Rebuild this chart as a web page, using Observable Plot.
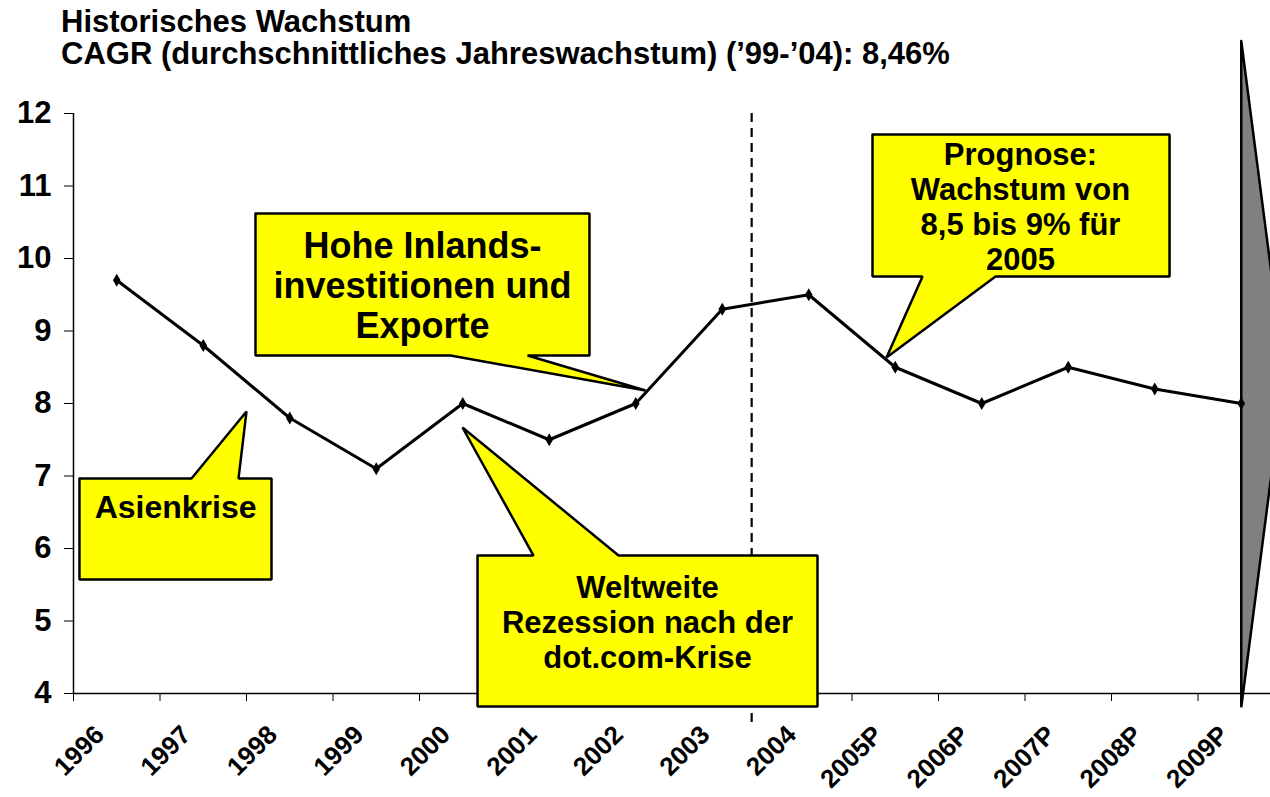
<!DOCTYPE html>
<html><head><meta charset="utf-8">
<script src="https://cdn.jsdelivr.net/npm/d3@7"></script>
<script src="https://cdn.jsdelivr.net/npm/@observablehq/plot@0.6"></script>
<style>
html,body{margin:0;padding:0;background:#fff;}
#wrap{position:relative;width:1270px;height:797px;overflow:hidden;}
#title{position:absolute;left:61px;top:6px;font:bold 31px/32px "Liberation Sans",Arial,sans-serif;color:#000;z-index:2;white-space:nowrap;}
#chart svg{display:block;}
</style></head><body>
<div id="wrap">
<div id="title"><div>Historisches Wachstum</div><div>CAGR (durchschnittliches Jahreswachstum) (’99-’04): 8,46%</div></div>
<div id="chart"></div>
</div>
<script>
// ---- data ----
const years = ["1996","1997","1998","1999","2000","2001","2002","2003","2004","2005P","2006P","2007P","2008P","2009P"];
const growth = [9.7, 8.8, 7.8, 7.1, 8.0, 7.5, 8.0, 9.3, 9.5, 8.5, 8.0, 8.5, 8.2, 8.0];
const yTicks = [4, 5, 6, 7, 8, 9, 10, 11, 12];
const forecastSplit = 7.34;   // dashed divider between 2003 and 2004 (category index units)

// callouts: polygon vertices and label anchor in data coordinates (x = category index, y = value)
const callouts = [
  {id: "asien", text: "Asienkrise", size: 32, lh: 1.1, tx: 0.68, ty: 6.57,
   shape: [[-0.431,6.966],[0.864,6.966],[1.5,7.89],[1.408,6.966],[1.789,6.966],[1.789,5.572],[-0.431,5.572]]},
  {id: "inland", text: "Hohe Inlands-\ninvestitionen und\nExporte", size: 36, lh: 1.11, tx: 3.535, ty: 9.634,
   shape: [[1.604,10.621],[5.465,10.621],[5.465,8.662],[4.749,8.662],[6.113,8.179],[3.858,8.662],[1.604,8.662]]},
  {id: "welt", text: "Weltweite\nRezession nach der\ndot.com-Krise", size: 31, lh: 1.13, tx: 6.136, ty: 4.993,
   shape: [[4.171,5.903],[4.818,5.903],[3.997,7.669],[5.801,5.903],[8.101,5.903],[8.101,3.821],[4.171,3.821]]},
  {id: "prog", text: "Prognose:\nWachstum von\n8,5 bis 9% für\n2005", size: 31, lh: 1.13, tx: 10.448, ty: 10.724,
   shape: [[8.737,11.71],[12.171,11.71],[12.171,9.752],[10.159,9.752],[8.899,8.634],[9.315,9.752],[8.737,9.752]]}
];
const arrowShape = [[13, 13.0], [13.5, 8.41], [13, 3.81], [13, 13.0]];

// ---- build ----
const rows = years.map((year, i) => ({i, year, value: growth[i]}));
const bandEdges = d3.range(years.length + 1).map(k => k - 0.5);
const shapes = callouts.flatMap(c => [...c.shape, c.shape[0]].map(([x, y]) => ({id: c.id, x, y})));
const arrow = arrowShape.map(([x, y]) => ({x, y}));
const font = "Liberation Sans, Arial, sans-serif";

const chart = Plot.plot({
  width: 1270, height: 797,
  marginLeft: 73, marginRight: 0, marginTop: 113, marginBottom: 104,
  style: {fontFamily: font, fontWeight: "bold", color: "#000", background: "#fff", overflow: "visible"},
  x: {type: "linear", domain: [-0.5, 13.5], range: [73, 1284]},
  y: {domain: [4, 12]},
  marks: [
    Plot.ruleY([4], {stroke: "#000", strokeWidth: 1.5}),
    Plot.ruleX([-0.5], {y1: 4, y2: 12, stroke: "#000", strokeWidth: 1.5}),
    Plot.axisY({ticks: yTicks, tickSize: 9, tickPadding: 13, fontSize: 31, fontWeight: "bold", tickFormat: d => String(d)}),
    Plot.axisX({ticks: bandEdges, tickSize: 8, tickFormat: () => ""}),
    Plot.axisX({ticks: d3.range(years.length), tickSize: 0, tickPadding: 0, tickRotate: -45,
                tickFormat: i => years[i], fontSize: 26, fontWeight: "bold", dx: -17, dy: 37}),
    Plot.ruleX([forecastSplit], {y1: 12, y2: 3.55, stroke: "#000", strokeWidth: 2.2, strokeDasharray: "9,6"}),
    Plot.line(arrow, {x: "x", y: "y", fill: "#808080", stroke: "#000", strokeWidth: 2.5, strokeLinejoin: "miter"}),
    Plot.line(rows, {x: "i", y: "value", stroke: "#000", strokeWidth: 3}),
    Plot.dot(rows, {x: "i", y: "value", symbol: "diamond", r: 4, fill: "#000"}),
    Plot.line(shapes, {x: "x", y: "y", z: "id", fill: "#ffff00", stroke: "#000", strokeWidth: 2.5, strokeLinejoin: "miter"}),
    ...callouts.map(c => Plot.text([c], {x: "tx", y: "ty", text: "text", fontSize: c.size, fontWeight: "bold",
                                        lineHeight: c.lh, textAnchor: "middle", fill: "#000"}))
  ]
});
document.getElementById("chart").appendChild(chart);
</script>
</body></html>
